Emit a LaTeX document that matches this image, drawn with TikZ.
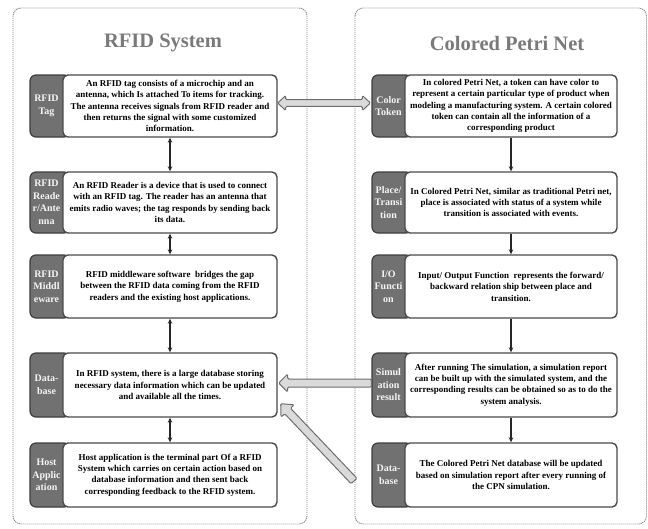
\documentclass[tikz,border=0pt]{standalone}
\usepackage{fontspec}
\setmainfont{Liberation Serif}
\usetikzlibrary{calc,arrows.meta}

\definecolor{tagfill}{HTML}{717171}
\definecolor{tagline}{HTML}{3E3E3E}
\definecolor{boxline}{HTML}{4A4A4A}
\definecolor{titlegray}{HTML}{7A7A7A}
\definecolor{panelline}{HTML}{8A8A8A}
\definecolor{bigfill}{HTML}{DADADA}
\definecolor{bigline}{HTML}{6E6E6E}

\tikzset{
  panel/.style={draw=panelline, line width=0.9pt, dash pattern=on 1.2pt off 0.8pt, rounded corners=8pt},
  paneltitle/.style={text=titlegray, font=\fontsize{20.5}{24}\selectfont\bfseries},
  tagbox/.style={draw=tagline, fill=tagfill, line width=1.2pt, rounded corners=6pt,
    minimum width=40pt, inner sep=0pt, text=white!92!gray,
    font=\fontsize{10}{12.5}\selectfont\bfseries},
  infobox/.style={draw=boxline, fill=white, line width=1.4pt, rounded corners=5pt,
    inner sep=1pt, align=center, font=\fontsize{9}{11.4}\selectfont\bfseries},
  link/.style={draw=black!85, line width=1.1pt, -{Stealth[length=5pt,width=4.5pt]}},
  duallink/.style={draw=black!85, line width=1.1pt,
    {Stealth[length=5pt,width=4.5pt]}-{Stealth[length=5pt,width=4.5pt]}},
  bigarrow/.style={draw=bigline, fill=bigfill, line width=1pt, rounded corners=1.2pt}
}

% label text sits in the visible left part of a tab
\newcommand{\tabtext}[1]{\parbox[c]{33pt}{\centering #1}\hspace*{7pt}}

% block arrow: tail, tip, shaft half width, head half width, head length
\newcommand{\singleblock}[5]{%
  \coordinate (ba-n) at ($(#2)!#5!(#1)$);
  \draw[bigarrow] ($(#1)!#3!90:(#2)$) -- ($(ba-n)!#3!-90:(#1)$) -- ($(ba-n)!#4!-90:(#1)$)
    -- (#2) -- ($(ba-n)!#4!90:(#1)$) -- ($(ba-n)!#3!90:(#1)$) -- ($(#1)!#3!-90:(#2)$) -- cycle;}

% double block arrow: tip, tip, shaft half width, head half width, head length
\newcommand{\doubleblock}[5]{%
  \coordinate (ba-a) at ($(#1)!#5!(#2)$);
  \coordinate (ba-b) at ($(#2)!#5!(#1)$);
  \draw[bigarrow] (#1) -- ($(ba-a)!#4!90:(#2)$) -- ($(ba-a)!#3!90:(#2)$)
    -- ($(ba-b)!#3!-90:(#1)$) -- ($(ba-b)!#4!-90:(#1)$) -- (#2)
    -- ($(ba-b)!#4!90:(#1)$) -- ($(ba-b)!#3!90:(#1)$)
    -- ($(ba-a)!#3!-90:(#2)$) -- ($(ba-a)!#4!-90:(#2)$) -- cycle;}

\begin{document}
\begin{tikzpicture}[x=1pt,y=-1pt]
  \useasboundingbox[fill=white] (0,0) rectangle (648,528);

  % the two panels
  \draw[panel] (13,8) rectangle (307,524);
  \draw[panel] (355,8) rectangle (646.5,524);
  \node[paneltitle] (ltitle) at (163,43) {RFID System};
  \node[paneltitle] (rtitle) at (507,43) {Colored Petri Net};

  % RFID system column
  \node[tagbox, minimum height=62pt] (l1t) at (50,106) {\tabtext{RFID\\Tag}};
  \node[infobox, minimum width=214pt, minimum height=62pt] (l1) at (170,106)
    {An RFID tag consists of a microchip and an\\
     antenna, which Is attached To items for tracking.\\
     The antenna receives signals from RFID reader and\\
     then returns the signal with some customized\\
     information.};

  \node[tagbox, minimum height=61pt] (l2t) at (50,202.5) {\tabtext{RFID\\Reade\\r/Ante\\nna}};
  \node[infobox, minimum width=214pt, minimum height=61pt] (l2) at (170,202.5)
    {An RFID Reader is a device that is used to connect\\
     with an RFID tag. The reader has an antenna that\\
     emits radio waves; the tag responds by sending back\\
     its data.};

  \node[tagbox, minimum height=63pt] (l3t) at (50,286.5) {\tabtext{RFID\\Middl\\eware}};
  \node[infobox, minimum width=214pt, minimum height=63pt] (l3) at (170,286.5)
    {RFID middleware software\ \ bridges the gap\\
     between the RFID data coming from the RFID\\
     readers and the existing host applications.};

  \node[tagbox, minimum height=64pt] (l4t) at (50,385) {\tabtext{Data-\\base}};
  \node[infobox, minimum width=214pt, minimum height=64pt] (l4) at (170,385)
    {In RFID system, there is a large database storing\\
     necessary data information which can be updated\\
     and available all the times.};

  \node[tagbox, minimum height=64pt] (l5t) at (50,475) {\tabtext{Host\\Applic\\ation}};
  \node[infobox, minimum width=214pt, minimum height=64pt] (l5) at (170,475)
    {Host application is the terminal part Of a RFID\\
     System which carries on certain action based on\\
     database information and then sent back\\
     corresponding feedback to the RFID system.};

  % Colored Petri Net column
  \node[tagbox, minimum height=62pt] (r1t) at (392,106) {\tabtext{Color\\Token}};
  \node[infobox, minimum width=212pt, minimum height=62pt] (r1) at (511,106)
    {In colored Petri Net, a token can have color to\\
     represent a certain particular type of product when\\
     modeling a manufacturing system. A certain colored\\
     token can contain all the information of a\\
     corresponding product};

  \node[tagbox, minimum height=61pt] (r2t) at (392,202.5) {\tabtext{Place/\\Transi\\tion}};
  \node[infobox, minimum width=212pt, minimum height=61pt] (r2) at (511,202.5)
    {In Colored Petri Net, similar as traditional Petri net,\\
     place is associated with status of a system while\\
     transition is associated with events.};

  \node[tagbox, minimum height=63pt] (r3t) at (392,286.5) {\tabtext{I/O\\Functi\\on}};
  \node[infobox, minimum width=212pt, minimum height=63pt] (r3) at (511,286.5)
    {Input/ Output Function\ \ represents the forward/\\
     backward relation ship between place and\\
     transition.};

  \node[tagbox, minimum height=64pt] (r4t) at (392,385) {\tabtext{Simul\\ation\\result}};
  \node[infobox, minimum width=212pt, minimum height=64pt] (r4) at (511,385)
    {After running The simulation, a simulation report\\
     can be built up with the simulated system, and the\\
     corresponding results can be obtained so as to do the\\
     system analysis.};

  \node[tagbox, minimum height=64pt] (r5t) at (392,475) {\tabtext{Data-\\base}};
  \node[infobox, minimum width=212pt, minimum height=64pt] (r5) at (511,475)
    {The Colored Petri Net database will be updated\\
     based on simulation report after every running of\\
     the CPN simulation.};

  % links inside the columns
  \draw[duallink] (l1.south) -- (l2.north);
  \draw[duallink] (l2.south) -- (l3.north);
  \draw[duallink] (l3.south) -- (l4.north);
  \draw[duallink] (l4.south) -- (l5.north);
  \draw[link] (r1.south) -- (r2.north);
  \draw[link] (r2.south) -- (r3.north);
  \draw[link] (r3.south) -- (r4.north);
  \draw[link] (r4.south) -- (r5.north);

  % block arrows between the columns
  \coordinate (tagEnd) at ($(l1.east)+(0,-3)$);
  \coordinate (tokenEnd) at ($(r1t.west)+(-1,-3)$);
  \doubleblock{tagEnd}{tokenEnd}{3.3pt}{7.5pt}{8pt}

  \coordinate (simTail) at ($(r4t.west)+(0,-2)$);
  \coordinate (dbTip) at ($(l4.east)+(1,-2)$);
  \singleblock{simTail}{dbTip}{4pt}{9pt}{9pt}

  \coordinate (cpnTail) at (354,481);
  \coordinate (dbCorner) at ($(l4.south east)+(3,-14)$);
  \singleblock{cpnTail}{dbCorner}{4pt}{9pt}{10pt}
\end{tikzpicture}
\end{document}
